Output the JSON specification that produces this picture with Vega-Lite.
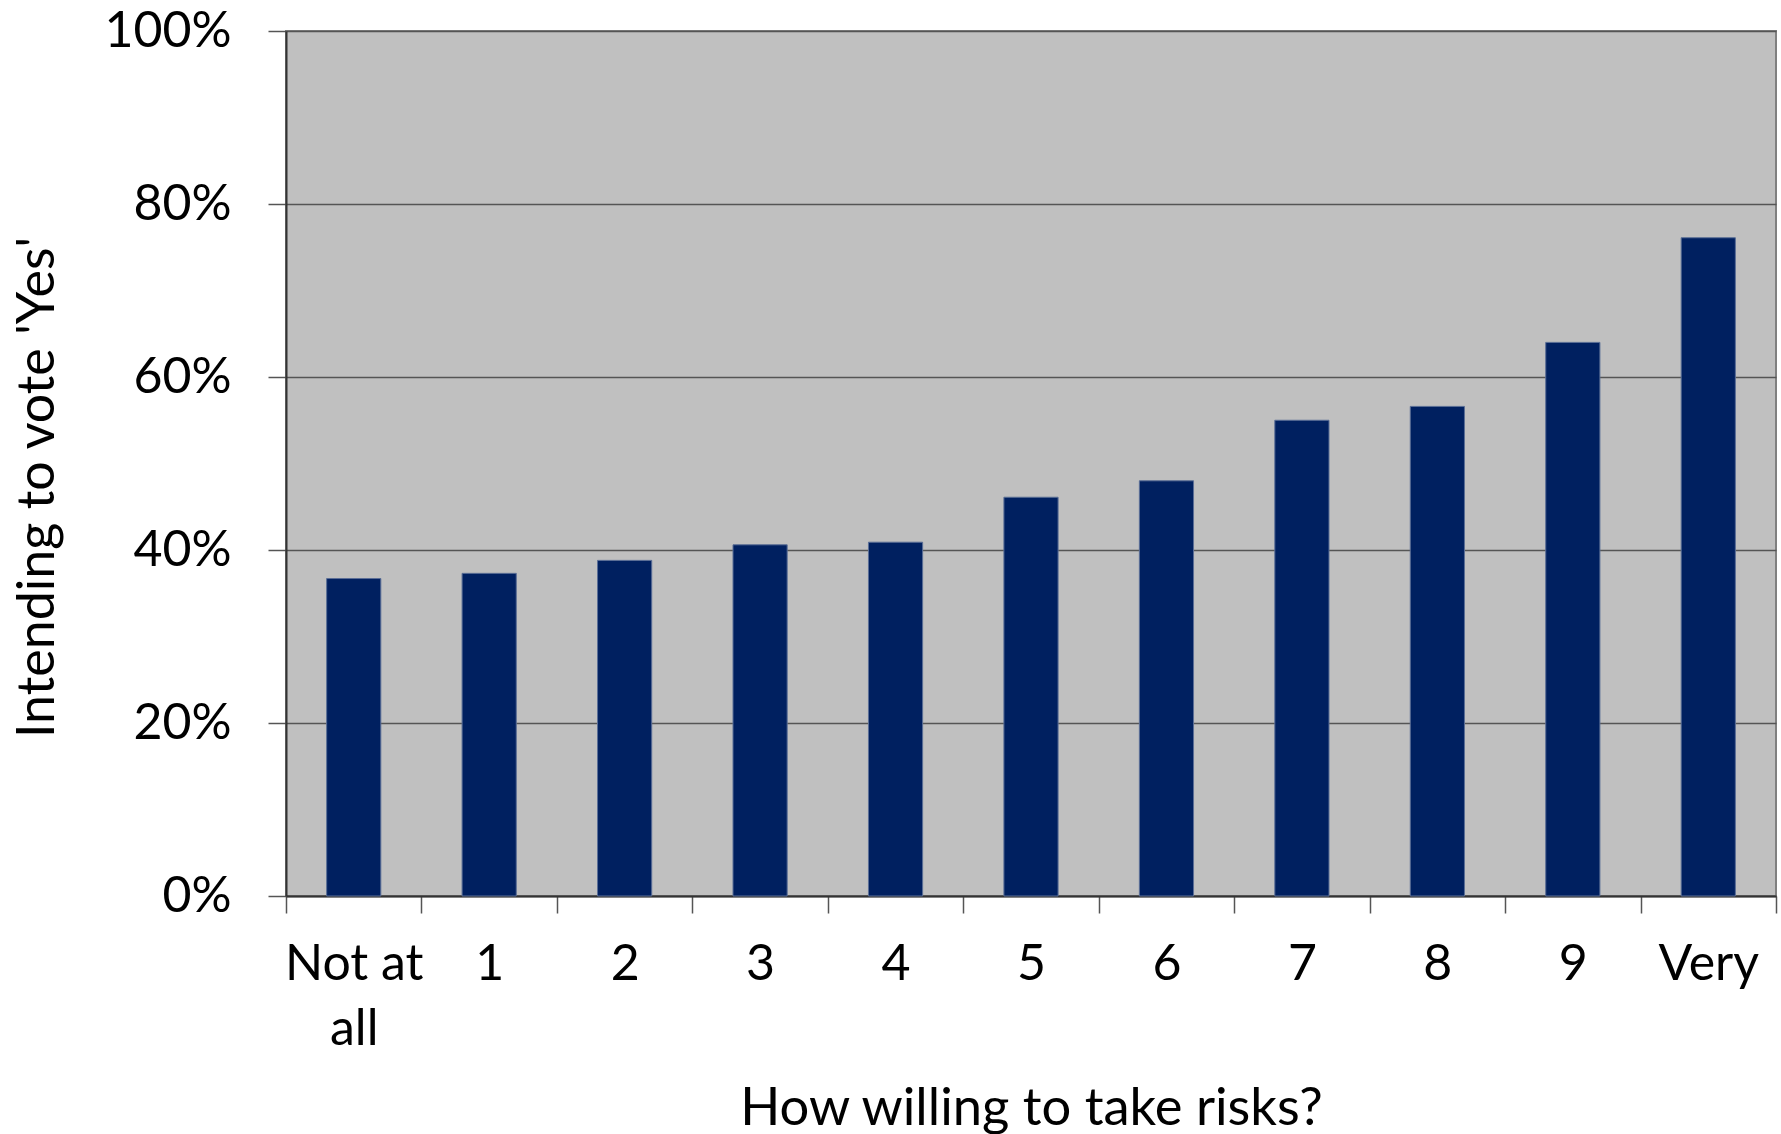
{
  "$schema": "https://vega.github.io/schema/vega-lite/v6.json",
  "width": 1490,
  "height": 865,
  "autosize": {"type": "none"},
  "padding": {"left": 286, "top": 31, "right": 5, "bottom": 238},
  "background": "white",
  "config": {
    "font": "Lato",
    "view": {"fill": "#C0C0C0", "stroke": "#808080", "strokeWidth": 2}
  },
  "data": {
    "values": [
      {"risk": "Not at all", "yes": 0.367},
      {"risk": "1", "yes": 0.373},
      {"risk": "2", "yes": 0.388},
      {"risk": "3", "yes": 0.406},
      {"risk": "4", "yes": 0.409},
      {"risk": "5", "yes": 0.461},
      {"risk": "6", "yes": 0.480},
      {"risk": "7", "yes": 0.550},
      {"risk": "8", "yes": 0.566},
      {"risk": "9", "yes": 0.640},
      {"risk": "Very", "yes": 0.761}
    ]
  },
  "mark": {"type": "bar", "width": {"band": 0.4}, "fill": "#002060", "stroke": "#5A6E96", "strokeWidth": 1},
  "encoding": {
    "x": {
      "field": "risk",
      "type": "nominal",
      "sort": null,
      "scale": {"paddingInner": 0, "paddingOuter": 0},
      "axis": {
        "title": "How willing to take risks?",
        "titleFont": "Lato",
        "titleFontSize": 52.5,
        "titleFontWeight": "normal",
        "titleColor": "black",
        "titleX": 745,
        "titleY": 228,
        "titleBaseline": "alphabetic",
        "titleAlign": "center",
        "labelAngle": 0,
        "labelFont": "Lato",
        "labelFontSize": 50,
        "labelColor": "black",
        "labelBaseline": "top",
        "labelPadding": 26,
        "labelLineHeight": 65,
        "labelExpr": "datum.label == 'Not at all' ? ['Not at', 'all'] : datum.label",
        "tickBand": "extent",
        "tickSize": 17,
        "tickColor": "#555555",
        "tickWidth": 1.5,
        "domainColor": "#333333",
        "domainWidth": 2,
        "grid": false
      }
    },
    "y": {
      "field": "yes",
      "type": "quantitative",
      "scale": {"domain": [0, 1], "nice": false},
      "axis": {
        "title": "Intending to vote 'Yes'",
        "titleFont": "Lato",
        "titleFontSize": 52,
        "titleFontWeight": "normal",
        "titleColor": "black",
        "titleAngle": 270,
        "titleX": -233,
        "titleY": 456,
        "titleBaseline": "alphabetic",
        "titleAlign": "center",
        "values": [0, 0.2, 0.4, 0.6, 0.8, 1],
        "format": ".0%",
        "labelFont": "Lato",
        "labelFontSize": 50,
        "labelColor": "black",
        "labelPadding": 37,
        "labelBaseline": "middle",
        "tickSize": 18,
        "tickColor": "#555555",
        "tickWidth": 1.5,
        "domainColor": "#333333",
        "domainWidth": 2,
        "grid": true,
        "gridColor": "#555555",
        "gridWidth": 1.5
      }
    }
  }
}
